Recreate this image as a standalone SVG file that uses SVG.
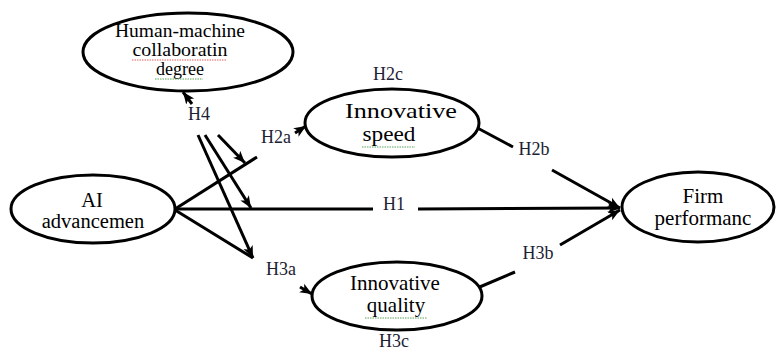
<svg xmlns="http://www.w3.org/2000/svg" width="776" height="351" viewBox="0 0 776 351" font-family="'Liberation Serif', 'DejaVu Serif', serif">
<style>
.node ellipse{fill:#fff;stroke:#000;stroke-width:3}
text{text-anchor:middle;fill:#000}
.lbl{font-size:18px;fill:#1b2233}
.ln{stroke:#000;stroke-width:3;fill:none}
.sq{fill:none;stroke-width:1;stroke-dasharray:1.5 1}
</style>
<defs>
<marker id="ah" markerUnits="userSpaceOnUse" markerWidth="14" markerHeight="12" refX="12" refY="6" orient="auto">
<path d="M0,1 L12,6 L0,11 L3,6 z" fill="#000"/>
</marker>
</defs>
<rect width="776" height="351" fill="#fff"/>
<g id="connectors">
<line class="ln" x1="175" y1="209" x2="257" y2="157"/>
<line class="ln" x1="295" y1="133" x2="306" y2="126" marker-end="url(#ah)"/>
<line class="ln" x1="175" y1="209" x2="373" y2="209"/>
<line class="ln" x1="418" y1="209" x2="620" y2="208" marker-end="url(#ah)"/>
<line class="ln" x1="175" y1="210" x2="253" y2="258"/>
<line class="ln" x1="300" y1="287" x2="312" y2="294" marker-end="url(#ah)"/>
<line class="ln" x1="470" y1="124" x2="513" y2="147"/>
<line class="ln" x1="552" y1="170" x2="620" y2="208" marker-end="url(#ah)"/>
<line class="ln" x1="475" y1="289" x2="515" y2="272"/>
<line class="ln" x1="560" y1="245" x2="620" y2="210" marker-end="url(#ah)"/>
<line class="ln" x1="218" y1="135" x2="245" y2="163" marker-end="url(#ah)"/>
<line class="ln" x1="205" y1="135" x2="251" y2="208" marker-end="url(#ah)"/>
<line class="ln" x1="198" y1="135" x2="253" y2="258" marker-end="url(#ah)"/>
<line class="ln" x1="192" y1="104" x2="183" y2="92" marker-end="url(#ah)"/>
<text class="lbl" x="199" y="120">H4</text>
<text class="lbl" x="276" y="143">H2a</text>
<text class="lbl" x="388" y="80">H2c</text>
<text class="lbl" x="394" y="210">H1</text>
<text class="lbl" x="281" y="275">H3a</text>
<text class="lbl" x="394" y="347">H3c</text>
<text class="lbl" x="534" y="155">H2b</text>
<text class="lbl" x="538" y="259">H3b</text>
</g>
<g id="human-machine" class="node">
<ellipse cx="188" cy="52" rx="105" ry="39"/>
<text x="180" y="37" font-size="18" textLength="130" lengthAdjust="spacingAndGlyphs">Human-machine</text>
<text x="180" y="56" font-size="18" textLength="95" lengthAdjust="spacingAndGlyphs">collaboratin</text>
<text x="180" y="75" font-size="18">degree</text>
<path class="sq" stroke="#e06060" d="M132,60 H227"/>
<path class="sq" stroke="#5aa05a" d="M155,79 H203"/>
</g>
<g id="ai" class="node">
<ellipse cx="93" cy="209" rx="82" ry="34"/>
<text x="92" y="207" font-size="20.5">AI</text>
<text x="93" y="228" font-size="20.5">advancemen</text>
</g>
<g id="speed" class="node">
<ellipse cx="392" cy="123" rx="87" ry="34"/>
<text x="401" y="118" font-size="22" textLength="112" lengthAdjust="spacingAndGlyphs">Innovative</text>
<text x="389" y="141" font-size="22" textLength="53" lengthAdjust="spacingAndGlyphs">speed</text>
<path class="sq" stroke="#5aa05a" d="M362,147 H415"/>
</g>
<g id="quality" class="node">
<ellipse cx="397" cy="296" rx="85" ry="34"/>
<text x="395" y="290" font-size="21">Innovative</text>
<text x="396" y="312" font-size="21">quality</text>
<path class="sq" stroke="#5aa05a" d="M365,318 H427"/>
</g>
<g id="firm" class="node">
<ellipse cx="698" cy="207" rx="76" ry="35"/>
<text x="703" y="203" font-size="21">Firm</text>
<text x="703" y="225" font-size="21">performanc</text>
</g>
</svg>
